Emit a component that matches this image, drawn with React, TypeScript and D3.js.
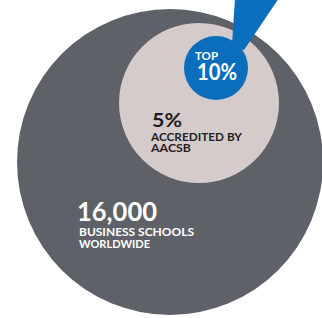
import React from "react";
import * as d3 from "d3";

// values and labels
const headlines = ["16,000", "5%", "10%"];
const captions = [["BUSINESS SCHOOLS", "WORLDWIDE"], ["ACCREDITED BY", "AACSB"], ["TOP"]];
const colors = ["#5f6168", "#d5cbcb", "#0a6ebd"];
const textColors = ["#ffffff", "#231f20", "#ffffff"];

const W = 322;
const H = 318;

const App = () => {
  // circle layout (pixel space)
  const circles = [
    { cx: 170, cy: 162, r: 153 },
    { cx: 199, cy: 103, r: 80 },
    { cx: 216, cy: 68, r: 32 },
  ];

  // pointer wedge leaving the blue circle toward the top edge
  const wedge = d3.path();
  wedge.moveTo(235, -2);
  wedge.lineTo(279, -2);
  wedge.lineTo(244, 50);
  wedge.lineTo(232, 45);
  wedge.closePath();

  return (
    <svg width={W} height={H} style={{ position: "absolute", left: 0, top: 0 }}
      fontFamily="Lato, 'Open Sans', sans-serif" fontWeight="bold">
      {circles.map((c, i) => (
        <g key={i}>
          {i === 2 && <path d={wedge.toString()} fill={colors[2]} />}
          <circle cx={c.cx} cy={c.cy} r={c.r} fill={colors[i]} />
        </g>
      ))}

      {/* big circle text */}
      <text x={77} y={221} fontSize={26} fill={textColors[0]} textLength={80} lengthAdjust="spacingAndGlyphs">{headlines[0]}</text>
      <text x={79} y={235.5} fontSize={11} fill={textColors[0]} textLength={115} lengthAdjust="spacingAndGlyphs">{captions[0][0]}</text>
      <text x={79} y={247.5} fontSize={11} fill={textColors[0]} textLength={71} lengthAdjust="spacingAndGlyphs">{captions[0][1]}</text>

      {/* middle circle text */}
      <text x={152} y={127} fontSize={19} fill={textColors[1]} textLength={30} lengthAdjust="spacingAndGlyphs">{headlines[1]}</text>
      <text x={151} y={140.5} fontSize={11} fill={textColors[1]} textLength={91} lengthAdjust="spacingAndGlyphs">{captions[1][0]}</text>
      <text x={151} y={152} fontSize={11} fill={textColors[1]} textLength={40} lengthAdjust="spacingAndGlyphs">{captions[1][1]}</text>

      {/* small circle text */}
      <text x={195} y={60} fontSize={11} fill={textColors[2]} textLength={23} lengthAdjust="spacingAndGlyphs">{captions[2][0]}</text>
      <text x={197} y={80} fontSize={23} fill={textColors[2]} textLength={40} lengthAdjust="spacingAndGlyphs">{headlines[2]}</text>
    </svg>
  );
};

export default App;
